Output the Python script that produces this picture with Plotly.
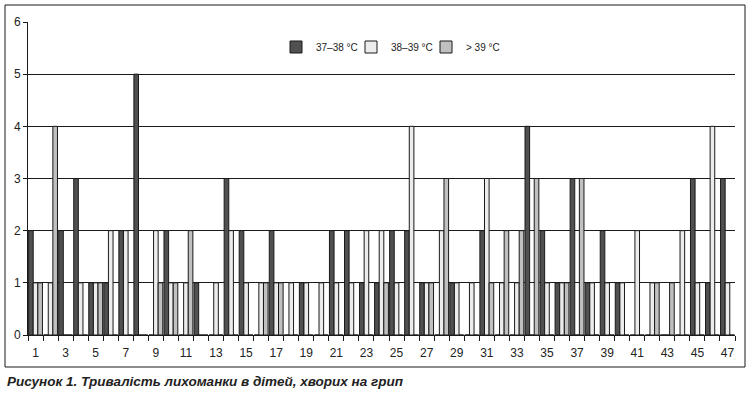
import plotly.graph_objects as go

categories = list(range(1, 48))
s_37_38 = [2,0,2,3,1,1,2,5,0,2,0,1,0,3,2,0,2,0,1,0,2,2,1,1,2,2,1,0,1,0,2,0,0,4,2,1,3,1,2,1,0,0,0,0,3,1,3]
s_38_39 = [1,1,0,1,1,2,2,0,2,1,1,0,1,2,1,1,1,1,1,1,1,1,2,2,1,4,1,2,1,1,3,1,1,0,1,1,0,1,1,1,2,1,0,2,1,4,1]
s_39 = [1,4,0,0,1,0,0,0,1,1,2,0,0,0,0,1,1,0,0,0,0,0,0,1,0,0,1,3,0,0,1,2,2,3,0,1,3,0,0,0,0,1,1,0,0,0,0]
series_names = ["37–38 °C", "38–39 °C", "> 39 °C"]
series_colors = ["#505050", "#ececec", "#c0c0c0"]
x_labels = [str(c) for c in categories if c % 2 == 1]
x_label_vals = [c for c in categories if c % 2 == 1]
caption = "Рисунок 1. Тривалість лихоманки в дітей, хворих на грип"

fig = go.Figure()
for name, vals, col in zip(series_names, [s_37_38, s_38_39, s_39], series_colors):
    fig.add_trace(go.Bar(
        x=categories, y=vals, name=name,
        marker=dict(color=col, line=dict(color="#1a1a1a", width=1)),
    ))

W, H = 751, 396
L, R, T, B = 28, 735, 22, 335
pw, ph = R - L, B - T

def px(x):
    return (x - L) / pw

def py(y):
    return (B - y) / ph

fig.update_layout(
    width=W, height=H,
    margin=dict(l=L, r=W - R, t=T, b=H - B),
    paper_bgcolor="white", plot_bgcolor="white",
    barmode="group", bargap=0.08, bargroupgap=0,
    font=dict(family="Liberation Sans, Arial, sans-serif", size=11, color="#222"),
    showlegend=True,
    legend=dict(orientation="h", x=px(276), y=py(47), xanchor="left", yanchor="middle",
                font=dict(size=10, color="#222"), bgcolor="rgba(0,0,0,0)",
                itemwidth=30, entrywidth=30, entrywidthmode="pixels", traceorder="normal"),
    xaxis=dict(range=[0.5, 47.5], tickmode="array", tickvals=x_label_vals, ticktext=x_labels,
               ticks="outside", ticklen=7, tickcolor="rgba(0,0,0,0)",
               showgrid=False, zeroline=False, showline=True, linecolor="#1a1a1a",
               linewidth=1, tickfont=dict(size=12, color="#222"),
               minor=dict(tickmode="linear", tick0=0.5, dtick=1, ticks="outside",
                          ticklen=5, tickcolor="#1a1a1a", tickwidth=1, showgrid=False)),
    yaxis=dict(range=[0, 6], tickvals=[0, 1, 2, 3, 4, 5, 6], ticks="outside", ticklen=4,
               tickcolor="#1a1a1a", showgrid=True, gridcolor="#1a1a1a", gridwidth=1,
               zeroline=False, showline=True, linecolor="#1a1a1a", linewidth=1,
               tickfont=dict(size=12, color="#222")),
)

fig.add_shape(type="rect", xref="paper", yref="paper",
              x0=px(5), x1=px(745), y0=py(367), y1=py(5),
              line=dict(color="#1a1a1a", width=1), layer="above")

fig.add_annotation(text="<b><i>" + caption + "</i></b>", xref="paper", yref="paper",
                   x=px(5), y=py(381), xanchor="left", yanchor="middle", showarrow=False,
                   font=dict(size=13.5, color="#222", family="Liberation Sans, Arial, sans-serif"))

fig.write_html("out.html", config={"displayModeBar": False},
               post_script="document.body.style.margin='0';")
